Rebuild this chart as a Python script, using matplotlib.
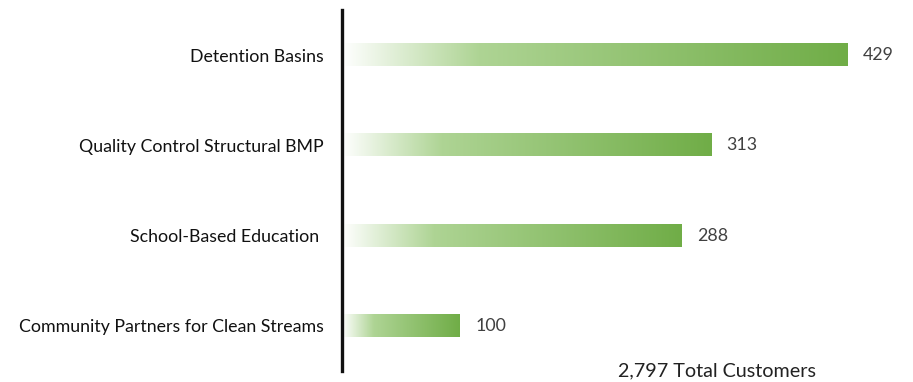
import numpy as np
import matplotlib
matplotlib.use("Agg")
import matplotlib.pyplot as plt
from matplotlib.colors import LinearSegmentedColormap

categories = ["Detention Basins", "Quality Control Structural BMP",
              "School-Based Education ", "Community Partners for Clean Streams"]
values = [429, 313, 288, 100]
total_label = "2,797 Total Customers"

plt.rcParams["font.family"] = ["Lato", "DejaVu Sans"]

fig = plt.figure(figsize=(9.13, 3.82), dpi=100)
ax = fig.add_axes([342 / 913, 11 / 382, (900 - 342) / 913, 361 / 382])

cmap = LinearSegmentedColormap.from_list(
    "fade_green", [(0.0, "#ffffff"), (0.27, "#aed494"), (1.0, "#70ad47")])
grad = np.linspace(0, 1, 256).reshape(1, -1)

bar_h = 0.245
ypos = np.arange(len(categories))
for y, v in zip(ypos, values):
    ax.imshow(grad, cmap=cmap, aspect="auto", interpolation="bilinear",
              extent=(0, v, y + bar_h / 2, y - bar_h / 2), zorder=2)
    ax.annotate(f"{v}", xy=(v, y), xytext=(11, 0), textcoords="offset points",
                va="center", ha="left", fontsize=12.8, color="#404040")

ax.set_xlim(0, (900 - 342) / 1.179)
ax.set_ylim(len(categories) - 0.5, -0.5)
ax.set_yticks(ypos)
ax.set_yticklabels(categories, fontsize=12.8, color="#111111")
ax.tick_params(axis="y", length=0, pad=13)
ax.set_xticks([])
for s in ["top", "right", "bottom"]:
    ax.spines[s].set_visible(False)
ax.spines["left"].set_linewidth(2.4)
ax.spines["left"].set_color("#111111")

fig.text(717 / 913, 1 - 371 / 382, total_label, ha="center", va="center",
         fontsize=14.2, color="#222222")

fig.savefig("out.png", dpi=100, facecolor="white")
